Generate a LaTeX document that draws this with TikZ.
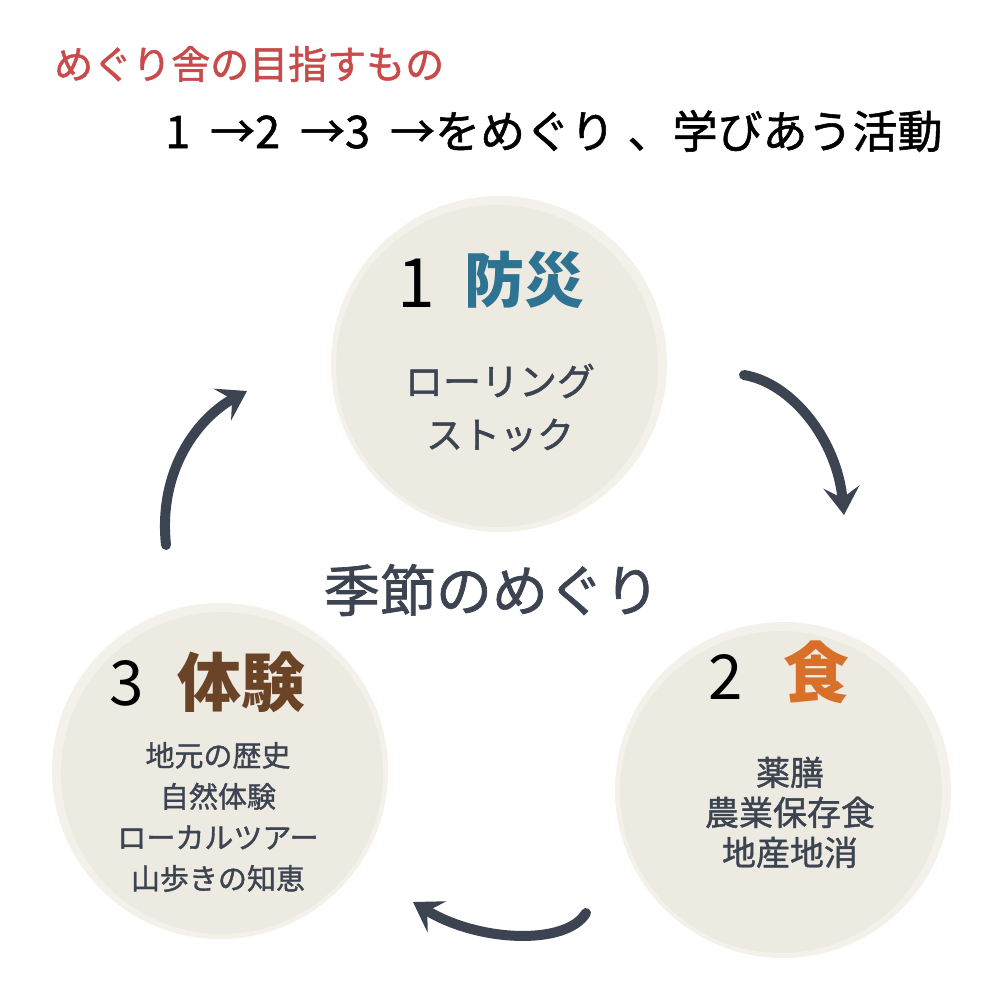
\documentclass[tikz,border=0pt]{standalone}
\usepackage{fontspec}
\usetikzlibrary{arrows.meta}
\newfontfamily\jpfont{Noto Sans CJK JP}
\newfontfamily\jpmed[FakeBold=1.2]{Noto Sans CJK JP}
\definecolor{inkcol}{HTML}{3D4451}
\definecolor{discol}{HTML}{EDEBE1}
\definecolor{rimcol}{HTML}{F3F1EA}
\definecolor{redcol}{HTML}{C94A4A}
\definecolor{bluecol}{HTML}{2E7391}
\definecolor{orangecol}{HTML}{D9702A}
\definecolor{browncol}{HTML}{6B4428}
\newcommand{\fsz}[1]{\fontsize{#1}{#1}\selectfont}
\tikzset{every node/.style={font=\jpfont,inner sep=0pt}}
\tikzset{disc/.style={circle,fill=discol,minimum size=322pt}}
\tikzset{rim/.style={circle,fill=rimcol,minimum size=336pt}}
\tikzset{numtxt/.style={text=black,font=\jpfont\fsz{62}}}
\tikzset{headtxt/.style={font=\jpfont\bfseries\fsz{60}}}
\tikzset{itemtxt/.style={text=inkcol,align=center}}
\tikzset{cycarrow/.style={draw=inkcol,line width=10pt,line cap=round,-{Stealth[length=28pt,width=36pt,inset=11pt]}}}

\begin{document}
\begin{tikzpicture}[x=1pt,y=-1pt]
\useasboundingbox [fill=white] (0,0) rectangle (1000,1000);
% discs
\node [rim] (r1) at (499,364) {};
\node [rim] (r2) at (783,790) {};
\node [rim] (r3) at (220,771) {};
\node [disc] (c1) at (497,366) {};
\node [disc] (c2) at (781,792) {};
\node [disc] (c3) at (222,773) {};

% titles
\node [anchor=west,text=redcol,font=\jpmed\fsz{39}] (title) at (54,64) {めぐり舎の目指すもの};
\node [anchor=west,text=black,font=\jpmed\fsz{45}] (sub) at (165,131) {1\;\,→2\;\,→3\;\,→をめぐり\;、学びあう活動};

% 1
\node [numtxt,font=\jpfont\fsz{68}] (n1) at (416,283) {1};
\node [headtxt,text=bluecol] (h1) at (524,280) {防災};
\node [itemtxt,font=\jpmed\fsz{38}] (i1) at (500,381) {ローリング};
\node [itemtxt,font=\jpmed\fsz{37}] (j1) at (500,435) {ストック};

% 2
\node [numtxt] (n2) at (726,677) {2};
\node [headtxt,text=orangecol,font=\jpfont\bfseries\fsz{66}] (h2) at (816,672) {食};
\node [itemtxt,font=\jpmed\fsz{34},text depth=0pt] (i2) at (790,811) {薬膳\\[6pt]農業保存食\\[6pt]地産地消};

% 3
\node [numtxt] (n3) at (127,683) {3};
\node [headtxt,text=browncol,font=\jpfont\bfseries\fsz{64}] (h3) at (241,682) {体験};
\node [itemtxt,font=\jpmed\fsz{29}] (i3) at (218,817) {地元の歴史\\[12pt]自然体験\\[12pt]ローカルツアー\\[12pt]山歩きの知恵};

\node [text=inkcol,font=\jpmed\fsz{56}] (mid) at (492,590) {季節のめぐり};

% arrows
\coordinate (a1s) at (166,545);
\coordinate (a1e) at (247,391);
\coordinate (a2s) at (744,375);
\coordinate (a2e) at (844,515);
\coordinate (a3s) at (586,913);
\coordinate (a3e) at (413,902);
\draw [cycarrow] (a1s) .. controls (158,470) and (198,418) .. (a1e);
\draw [cycarrow] (a2s) .. controls (792,383) and (837,440) .. (a2e);
\draw [cycarrow] (a3s) .. controls (566,946) and (478,942) .. (a3e);
\end{tikzpicture}
\end{document}
